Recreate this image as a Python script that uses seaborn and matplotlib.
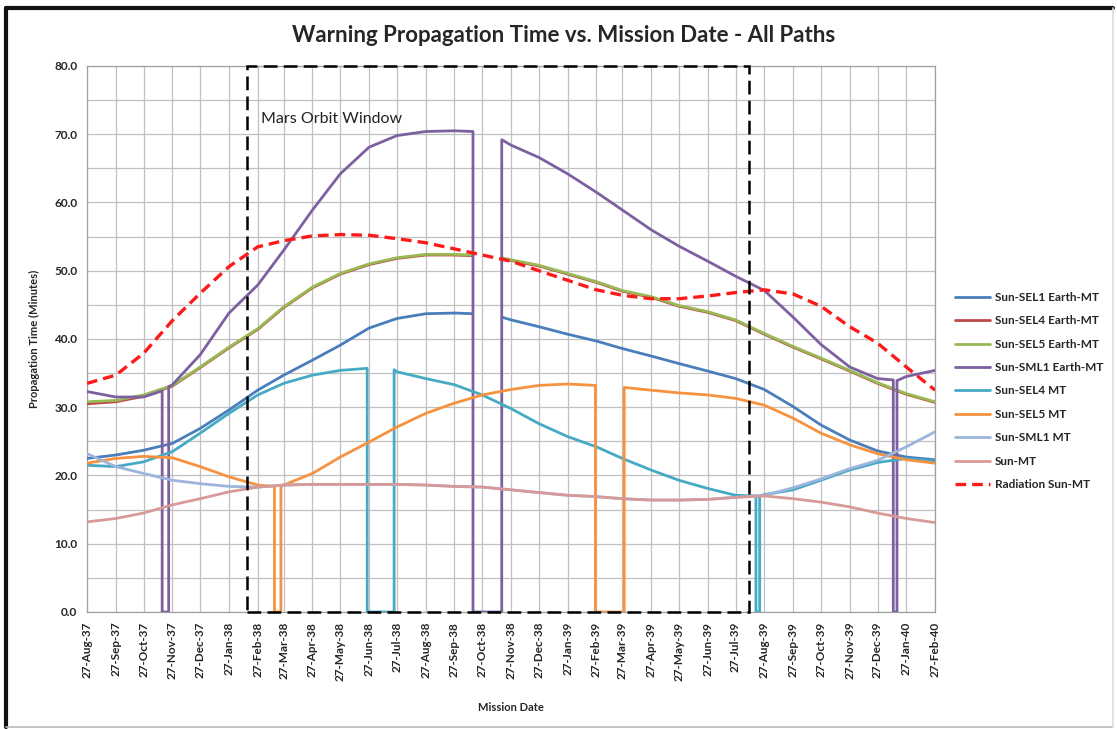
import numpy as np
import pandas as pd
import matplotlib
matplotlib.use("Agg")
import matplotlib.pyplot as plt
import matplotlib.dates as mdates
from matplotlib.lines import Line2D
from matplotlib.patches import Rectangle
from matplotlib.ticker import MultipleLocator, FormatStrFormatter
import seaborn as sns

# ---------------- data ----------------
months = ["1937-08-27", "1937-09-27", "1937-10-27", "1937-11-27", "1937-12-27",
          "1938-01-27", "1938-02-27", "1938-03-27", "1938-04-27", "1938-05-27",
          "1938-06-27", "1938-07-27", "1938-08-27", "1938-09-27", "1938-10-27",
          "1938-11-27", "1938-12-27", "1939-01-27", "1939-02-27", "1939-03-27",
          "1939-04-27", "1939-05-27", "1939-06-27", "1939-07-27", "1939-08-27",
          "1939-09-27", "1939-10-27", "1939-11-27", "1939-12-27", "1940-01-27",
          "1940-02-27"]

series_names = ["Sun-SEL1 Earth-MT", "Sun-SEL4 Earth-MT", "Sun-SEL5 Earth-MT",
                "Sun-SML1 Earth-MT", "Sun-SEL4 MT", "Sun-SEL5 MT", "Sun-SML1 MT",
                "Sun-MT", "Radiation Sun-MT"]

# Earth relay paths (gap during conjunction)
earth_dates = months[0:14] + ["1938-10-17", "1938-10-27", "1938-11-17"] + months[15:]
sel1_earth = [22.5, 23.0, 23.7, 24.7, 26.9, 29.6, 32.5, 34.7, 36.9, 39.1, 41.6, 43.0, 43.7, 43.8,
              43.7, np.nan, 43.2,
              42.8, 41.8, 40.7, 39.7, 38.6, 37.5, 36.4, 35.3, 34.2, 32.6, 30.1, 27.4, 25.2, 23.6, 22.7, 22.3]
sel4_earth = [30.5, 30.8, 31.6, 33.1, 35.8, 38.7, 41.4, 44.6, 47.5, 49.5, 50.9, 51.8, 52.3, 52.3,
              52.2, np.nan, 51.8,
              51.5, 50.7, 49.5, 48.3, 47.0, 46.1, 44.8, 43.9, 42.7, 40.7, 38.8, 37.1, 35.3, 33.5, 31.9, 30.7]
sel5_earth = [30.8, 31.0, 31.8, 33.2, 35.9, 38.8, 41.5, 44.7, 47.6, 49.6, 51.0, 51.9, 52.4, 52.4,
              52.3, np.nan, 51.9,
              51.6, 50.8, 49.6, 48.4, 47.1, 46.2, 44.9, 44.0, 42.8, 40.8, 38.9, 37.2, 35.4, 33.6, 32.0, 30.8]

sml1_earth_dates = (months[0:3] + ["1937-11-16", "1937-11-16", "1937-11-23", "1937-11-23"]
                    + months[3:14] + ["1938-10-17", "1938-10-17", "1938-11-17", "1938-11-17"]
                    + months[15:29] + ["1940-01-13", "1940-01-13", "1940-01-17", "1940-01-17"]
                    + months[29:])
sml1_earth = [32.3, 31.5, 31.5,
              32.4, 0.0, 0.0, 33.0,
              33.3, 37.7, 43.8, 47.9, 53.0, 58.9, 64.2, 68.1, 69.8, 70.4, 70.5,
              70.4, 0.0, 0.0, 69.2,
              68.4, 66.6, 64.2, 61.5, 58.9, 56.0, 53.6, 51.4, 49.2, 47.1, 43.2, 39.2, 35.9, 34.2,
              34.0, 0.0, 0.0, 33.9,
              34.5, 35.4]

sel4_mt_dates = (months[0:10] + ["1938-06-25", "1938-06-25", "1938-07-24", "1938-07-24"]
                 + months[11:24] + ["1939-08-18", "1939-08-18", "1939-08-22", "1939-08-22"]
                 + months[24:])
sel4_mt = [21.5, 21.3, 22.0, 23.5, 26.2, 29.1, 31.8, 33.5, 34.7, 35.4,
           35.7, 0.0, 0.0, 35.5,
           35.2, 34.2, 33.3, 31.8, 29.8, 27.6, 25.7, 24.2, 22.5, 20.8, 19.3, 18.1, 17.1,
           17.0, 0.0, 0.0, 17.0,
           17.2, 17.9, 19.3, 20.8, 21.9, 22.5, 22.1]

sel5_mt_dates = (months[0:7] + ["1938-03-17", "1938-03-17", "1938-03-24", "1938-03-24"]
                 + months[7:18] + ["1939-02-26", "1939-02-26", "1939-03-29", "1939-03-29"]
                 + months[20:])
sel5_mt = [21.8, 22.5, 22.8, 22.6, 21.3, 19.8, 18.6,
           18.4, 0.0, 0.0, 18.5,
           18.6, 20.3, 22.7, 24.9, 27.1, 29.1, 30.6, 31.8, 32.6, 33.2, 33.4,
           33.2, 0.0, 0.0, 32.9,
           32.5, 32.1, 31.8, 31.3, 30.3, 28.4, 26.2, 24.5, 23.2, 22.3, 21.8]

sml1_mt = [23.2, 21.3, 20.3, 19.3, 18.8, 18.4, 18.3, 18.6, 18.7, 18.7, 18.7, 18.7, 18.6, 18.4,
           18.3, 17.9, 17.5, 17.1, 16.9, 16.6, 16.4, 16.4, 16.5, 16.8, 17.1, 18.2, 19.5, 21.0,
           22.2, 24.2, 26.4]
sun_mt = [13.2, 13.7, 14.5, 15.7, 16.6, 17.6, 18.3, 18.6, 18.7, 18.7, 18.7, 18.7, 18.6, 18.4,
          18.3, 17.9, 17.5, 17.1, 16.9, 16.6, 16.4, 16.4, 16.5, 16.8, 17.0, 16.6, 16.1, 15.4,
          14.5, 13.7, 13.1]
radiation_sun_mt = [33.5, 34.7, 37.9, 42.7, 46.7, 50.6, 53.5, 54.4, 55.1, 55.3, 55.2, 54.7, 54.1,
                    53.2, 52.3, 51.4, 50.0, 48.6, 47.2, 46.4, 45.9, 45.9, 46.3, 46.8, 47.2, 46.6,
                    44.8, 41.8, 39.4, 35.9, 32.5]

window_start = "1938-02-15"
window_end = "1939-08-11"
window_label = "Mars Orbit Window"
window_label_date = "1938-03-02"
window_label_value = 72.3

title = "Warning Propagation Time vs. Mission Date - All Paths"
xlabel = "Mission Date"
ylabel = "Propagation Time (Minutes)"

# ---------------- styles ----------------
colors = ["#4A7EBB", "#BE4B48", "#98B954", "#7D60A0", "#46AAC5", "#F69240",
          "#9DB5DC", "#D89A98", "#FF1A1A"]

series = [
    (earth_dates, sel1_earth),
    (earth_dates, sel4_earth),
    (earth_dates, sel5_earth),
    (sml1_earth_dates, sml1_earth),
    (sel4_mt_dates, sel4_mt),
    (sel5_mt_dates, sel5_mt),
    (months, sml1_mt),
    (months, sun_mt),
    (months, radiation_sun_mt),
]

sns.set_theme(style="white")
plt.rcParams["font.family"] = ["Lato", "DejaVu Sans"]

fig = plt.figure(figsize=(11.17, 7.29), dpi=100)
ax = fig.add_axes([0.0779, 0.1605, 0.7592, 0.749])

handles = []
for i, ((dts, vals), name, col) in enumerate(zip(series, series_names, colors)):
    df = pd.DataFrame({"date": pd.to_datetime(dts), "value": vals})
    df["seg"] = df["value"].isna().cumsum()
    df = df.dropna()
    if name == "Radiation Sun-MT":
        ls = (0, (3.2, 1.8))
        lw = 2.4
    else:
        ls = "-"
        lw = 2.0
    sns.lineplot(data=df, x="date", y="value", units="seg", estimator=None, sort=False,
                 ax=ax, color=col, linewidth=lw, linestyle=ls, legend=False, zorder=3 + i * 0.1)
    handles.append(Line2D([], [], color=col, lw=lw, linestyle=ls, label=name))

# Mars orbit window box
x0 = mdates.date2num(pd.Timestamp(window_start))
x1 = mdates.date2num(pd.Timestamp(window_end))
ax.add_patch(Rectangle((x0, 0), x1 - x0, 80, fill=False, edgecolor="black", lw=1.8,
                       linestyle=(0, (5.5, 2.5)), zorder=6, clip_on=False))
ax.text(mdates.date2num(pd.Timestamp(window_label_date)), window_label_value, window_label,
        fontsize=11.5, color="#222222", va="center", ha="left", zorder=7)

# axes
ax.set_xlim(pd.Timestamp(months[0]), pd.Timestamp(months[-1]))
ax.set_ylim(0, 80)
ax.set_xticks(pd.to_datetime(months))
ax.xaxis.set_major_formatter(mdates.DateFormatter("%d-%b-%y"))
ax.yaxis.set_major_locator(MultipleLocator(10))
ax.yaxis.set_minor_locator(MultipleLocator(5))
ax.yaxis.set_major_formatter(FormatStrFormatter("%.1f"))
ax.grid(which="major", axis="both", color="#C0C0C0", lw=0.9)
ax.grid(which="minor", axis="y", color="#C0C0C0", lw=0.9)
ax.set_axisbelow(True)
for s in ax.spines.values():
    s.set_color("#A0A0A0")
    s.set_linewidth(0.9)
ax.tick_params(axis="both", which="major", direction="out", length=5, width=0.8,
               color="#A0A0A0", pad=2)
ax.tick_params(axis="y", which="minor", length=0)
ax.tick_params(axis="x", labelrotation=90)
for lab in ax.get_xticklabels():
    lab.set_fontsize(8.5)
    lab.set_fontweight("bold")
for lab in ax.get_yticklabels():
    lab.set_fontsize(8.5)
    lab.set_fontweight("bold")

ax.set_xlabel(xlabel, fontsize=8, fontweight="bold", labelpad=15)
ax.set_ylabel(ylabel, fontsize=8, fontweight="bold", labelpad=10)
fig.text(564 / 1117, 1 - 36 / 729, title, fontsize=16, fontweight="bold",
         ha="center", va="center")

ax.legend(handles=handles, loc="center left", bbox_to_anchor=(955 / 1117, 1 - 391 / 729),
          bbox_transform=fig.transFigure, frameon=False,
          prop={"weight": "bold", "size": 8.5}, handlelength=3.0, handletextpad=0.35,
          labelspacing=1.05, borderpad=0, borderaxespad=0)

# outer frame
fig.add_artist(Line2D([6 / 1117, 6 / 1117], [2 / 729, 1 - 8 / 729], transform=fig.transFigure,
                      color="#111111", lw=3))
fig.add_artist(Line2D([6 / 1117, 1 - 4 / 1117], [1 - 8 / 729, 1 - 8 / 729],
                      transform=fig.transFigure, color="#111111", lw=3))
fig.add_artist(Line2D([6 / 1117, 1 - 4 / 1117], [2 / 729, 2 / 729], transform=fig.transFigure,
                      color="#BBBBBB", lw=1.2))
fig.add_artist(Line2D([1 - 4 / 1117, 1 - 4 / 1117], [2 / 729, 1 - 8 / 729],
                      transform=fig.transFigure, color="#DDDDDD", lw=1.2))

fig.savefig("out.png", dpi=100)
